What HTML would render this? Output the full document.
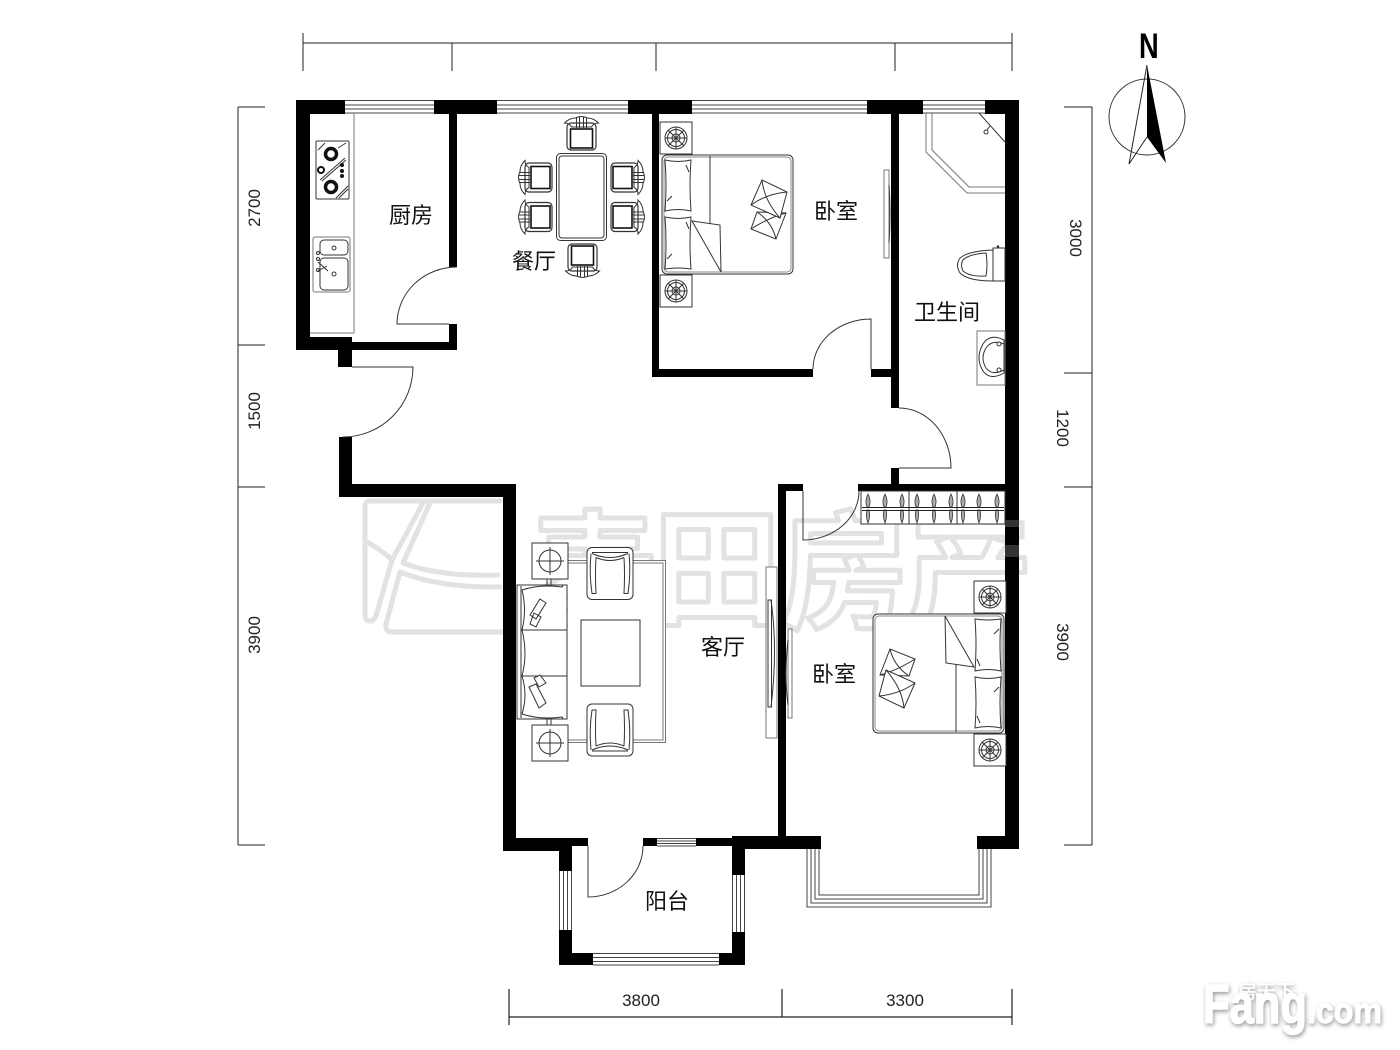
<!DOCTYPE html>
<html><head><meta charset="utf-8"><style>
html,body{margin:0;padding:0;background:#fff}
svg{display:block}
.cn{font-family:"Liberation Sans","Noto Sans CJK SC",sans-serif;font-size:22px;fill:#111}
.d{font-family:"Liberation Sans",sans-serif;font-size:17px;fill:#222}
.l{fill:none;stroke:#333;stroke-width:1}
.f{fill:#fff;stroke:#333;stroke-width:1}
.g{fill:#fff;stroke:#777;stroke-width:1}
</style></head><body>
<svg width="1400" height="1050" viewBox="0 0 1400 1050" xmlns="http://www.w3.org/2000/svg">
<defs>
<g id="wheel"><rect x="-16" y="-16" width="32" height="32" class="f" stroke-width="1.5"/><circle r="11" class="f" stroke-width="1.3"/><circle r="8.5" class="l"/><circle r="4" class="l"/><path class="l" d="M-11 0H11M0-11V11M-8-8L8 8M-8 8L8-8"/></g>
<g id="chair">
<path class="f" d="M-17 -16Q-12 -21 -6 -21Q0 -24 6 -21Q12 -21 17 -16Q12 -16 10 -12H-10Q-12 -16 -17 -16Z" stroke-width="1.2"/>
<path class="l" d="M-5 -22V-11M5 -22V-11M-5 -16H5M-2 -22V-11M2 -22V-11"/>
<rect x="-14.500" y="-16" width="29" height="27" rx="4" fill="none" stroke="#333" stroke-width="1.2"/>
<rect x="-11" y="-10" width="22" height="19" fill="#fff" stroke="#111" stroke-width="1.600"/></g>
<g id="hanger"><path d="M0 -14Q-3.500 -7 -1 -1H1Q3.500 -7 0 -14ZM-1 2Q-2.500 9 0 15Q2.500 9 1 2Z" fill="#aaa" stroke="#333" stroke-width=".8"/></g>
<g id="bed">
<rect x="662" y="155" width="131" height="119" rx="5" class="f" stroke-width="1.200"/>
<rect x="664" y="157" width="127" height="115" rx="4" fill="none" stroke="#888" stroke-width="1"/>
<path class="l" d="M710 156V225"/>
<path class="f" d="M692 221L720 225L721 272Z"/>
<path class="f" d="M665 160Q678 163 691 160Q689 185 691 211Q678 208 665 211Q667 185 665 160ZM665 217Q678 220 691 217Q689 243 691 269Q678 267 665 269Q667 243 665 217Z" stroke-width="1.2"/>
<path class="l" d="M667 201L672 196M667 259L672 254M686 165L689 172M686 222L689 229"/>
<use href="#wheel" x="676" y="138"/><use href="#wheel" x="676" y="291"/>
</g>
<g id="deco">
<path class="f" d="M757 212L786 213L776 239L751 229Z" stroke-width="1.2"/>
<path class="l" d="M757 212Q772 222 776 239M786 213Q768 218 751 229"/>
<path class="f" d="M762 180L787 192L780 218L751 205Z" stroke-width="1.2"/>
<path class="l" d="M762 180Q764 200 780 218M787 192Q766 194 751 205"/>
</g>
<g id="armchair"><rect x="-23" y="-26" width="46" height="52" rx="5" class="f" stroke-width="1.2"/><path class="l" d="M-18 -20Q0 -12 18 -20M-18 -21H18M-19 -20Q-21 0 -18 20H-14Q-15 0 -14 -16M19 -20Q21 0 18 20H14Q15 0 14 -16M-14 -16Q0 -10 14 -16"/></g>
<g id="sidet"><rect x="-18" y="-18" width="36" height="36" class="f"/><circle r="11" class="l" stroke-width="1.2"/><path class="l" d="M-14 0H14M0-14V14"/></g>
</defs>

<!-- watermark -->
<g fill="#fff" stroke="#e2e2e2" stroke-width="5" stroke-linejoin="round" font-family="'Noto Sans CJK SC',sans-serif" font-weight="700" font-size="128">
<text x="529" y="618">麦</text>
<text x="653" y="615">田</text>
<text x="780" y="618">房</text>
<text x="905" y="618">产</text>
</g>
<g fill="none" stroke="#e2e2e2" stroke-width="5" stroke-linejoin="round" stroke-linecap="round">
<path d="M500 501H370Q365 501 365 507V541Q382 550 392 560L423 503"/>
<path d="M430 503L403 563Q440 577 498 575"/>
<path d="M392 560L376 616Q373 622 369 621Q365 620 365 615V541"/>
<path d="M400 572Q440 588 500 587"/>
<path d="M400 572L386 624Q385 632 392 632H502"/>
</g>

<!-- dimensions -->
<g stroke="#222" stroke-width="1" fill="none">
<path d="M303 43H1012M303 33V71M452 43V71M656 43V71M895 43V71M1012 33V71"/>
<path d="M238 107V845M238 107H265M238 345H265M238 487H265M238 845H265"/>
<path d="M1092 107V845M1064 107H1092M1064 373H1092M1064 487H1092M1064 845H1092"/>
<path d="M509 1017H1012M509 989V1025M782 989V1017M1012 989V1025" stroke-width="1.200"/>
</g>
<g class="d" text-anchor="middle">
<text transform="translate(260,208) rotate(-90)">2700</text>
<text transform="translate(260,411) rotate(-90)">1500</text>
<text transform="translate(260,635) rotate(-90)">3900</text>
<text transform="translate(1070,238) rotate(90)">3000</text>
<text transform="translate(1057,428) rotate(90)">1200</text>
<text transform="translate(1057,642) rotate(90)">3900</text>
<text x="641" y="1006">3800</text>
<text x="905" y="1006">3300</text>
</g>

<!-- compass -->
<circle cx="1147" cy="117" r="38" class="l" stroke="#222" stroke-width="1.200"/>
<path d="M1147 65L1129 164L1147 137" fill="none" stroke="#222" stroke-width="1"/>
<path d="M1147 65L1166 163L1147 137Z" fill="#000"/>
<text transform="translate(1139,58) scale(.78,1)" font-family="'Liberation Sans',sans-serif" font-weight="700" font-size="35" fill="#000">N</text>

<!-- windows -->
<g stroke="#444" stroke-width="1" fill="#fff">
<path d="M345 100.500H434M345 105H434M345 109H434M345 113H434M497 100.500H628M497 105H628M497 109H628M497 113H628M692 100.500H867M692 105H867M692 109H867M692 113H867M923 100.500H985M923 105H985M923 109H985M923 113H985"/>
<path d="M657 838.500H696M657 841H696M657 843.500H696M657 846H696"/>
<path d="M559.500 871V930M563.500 871V930M567.500 871V930M571.500 871V930M732.500 875V932M736.500 875V932M740.500 875V932M744.500 875V932"/>
<path d="M593 953.500H719M593 957.500H719M593 961.500H719M593 965H719"/>
<path d="M807 849V907H991V849M811 849V903H987V849M815 849V899H983V849M819 849V895H979V849"/>
</g>

<!-- walls -->
<g fill="#000">
<rect x="296" y="100" width="49" height="14"/>
<rect x="434" y="100" width="63" height="14"/>
<rect x="628" y="100" width="64" height="14"/>
<rect x="867" y="100" width="56" height="14"/>
<rect x="985" y="100" width="34" height="14"/>
<rect x="296" y="100" width="14" height="250"/>
<rect x="296" y="337" width="56" height="13"/>
<rect x="352" y="342" width="105" height="8"/>
<rect x="338" y="340" width="14" height="27"/>
<rect x="449" y="113" width="8" height="154"/>
<rect x="449" y="324" width="8" height="26"/>
<rect x="339" y="437" width="13" height="60"/>
<rect x="339" y="484" width="177" height="13"/>
<rect x="503" y="484" width="13" height="367"/>
<rect x="503" y="838" width="69" height="13"/>
<rect x="559" y="838" width="13" height="33"/>
<rect x="572" y="838" width="16" height="8"/>
<rect x="643" y="838" width="14" height="8"/>
<rect x="696" y="838" width="36" height="8"/>
<rect x="559" y="930" width="13" height="35"/>
<rect x="559" y="953" width="34" height="12"/>
<rect x="719" y="953" width="26" height="12"/>
<rect x="732" y="836" width="13" height="39"/>
<rect x="732" y="932" width="13" height="33"/>
<rect x="732" y="836" width="89" height="13"/>
<rect x="977" y="836" width="41" height="13"/>
<rect x="778" y="484" width="8" height="354"/>
<rect x="778" y="484" width="25" height="7"/>
<rect x="858" y="484" width="147" height="7"/>
<rect x="1005" y="100" width="14" height="749"/>
<rect x="652" y="113" width="7" height="264"/>
<rect x="652" y="369" width="161" height="8"/>
<rect x="871" y="369" width="21" height="8"/>
<rect x="891" y="113" width="8" height="295"/>
<rect x="891" y="468" width="8" height="17"/>
</g>
<rect x="1005" y="520" width="14" height="7" fill="#333"/>
<rect x="1005" y="545" width="14" height="12" fill="#333"/>

<!-- doors -->
<g class="l">
<path d="M449 324H397A60 57 0 0 1 457 267"/>
<path d="M352 367H413A70 70 0 0 1 343 437"/>
<path d="M871 369V319A58 50 0 0 0 813 369"/>
<path d="M899 408A52 60 0 0 1 951 468H899"/>
<path d="M803 491V540A56 49 0 0 0 859 491"/>
<path d="M588 846V897A55 51 0 0 0 643 846"/>
</g>

<!-- kitchen -->
<path class="g" d="M354 113V333H310"/>
<rect x="316" y="141" width="33" height="58" rx="1" class="f" stroke-width="1.200"/>
<path class="l" d="M318 150L325 143M320 180L345 158M322 181L346 160M336 198L348 186M339 198L348 189M338 148L346 143"/>
<circle cx="331" cy="154" r="5.500" fill="#fff" stroke="#111" stroke-width="3.500"/>
<circle cx="331" cy="187" r="5.500" fill="#fff" stroke="#111" stroke-width="3.500"/>
<circle cx="321" cy="170" r="3" fill="#fff" stroke="#111" stroke-width="2"/>
<circle cx="342" cy="165" r="2" fill="#111"/><circle cx="342" cy="171" r="2" fill="#111"/><circle cx="342" cy="176" r="2" fill="#111"/>
<rect x="313" y="237" width="37" height="55" rx="2" class="g"/>
<rect x="320" y="240" width="28" height="15" rx="4" class="l"/>
<rect x="320" y="258" width="28" height="32" rx="4" class="l"/>
<circle cx="334" cy="248" r="2" class="l"/><circle cx="334" cy="274" r="2" class="l"/>
<path class="l" d="M318 262L328 271M318 271L327 266"/>
<circle cx="318" cy="253" r="1.500" class="l"/><circle cx="318" cy="259" r="1.500" class="l"/><circle cx="318" cy="270" r="1.500" class="l"/>

<!-- dining -->
<use href="#chair" x="581.500" y="139"/>
<use href="#chair" transform="translate(582.500,255) rotate(180)"/>
<use href="#chair" transform="translate(541,177.500) rotate(-90)"/>
<use href="#chair" transform="translate(541,217) rotate(-90)"/>
<use href="#chair" transform="translate(622,177.500) rotate(90)"/>
<use href="#chair" transform="translate(622,217) rotate(90)"/>
<rect x="556.500" y="153.500" width="50" height="87" rx="4" class="f" stroke-width="1.200"/>
<rect x="559" y="156" width="45" height="82" rx="3" class="l" stroke-width="1.200"/>

<!-- bedroom 1 -->
<use href="#bed"/><use href="#deco"/>
<rect x="884" y="170" width="5" height="88" class="g"/>
<path class="l" d="M889 185Q891 214 889 243"/>

<!-- bath -->
<path class="g" d="M926 113V152L967 193H1005M932 113V150L969 187H1005"/>
<path class="l" d="M979 113L1005 142"/>
<circle cx="986" cy="132" r="2" class="l"/><path class="l" d="M987 130L990 126"/>
<rect x="993" y="248" width="12" height="33" class="f"/>
<path class="f" d="M993 250Q968 251 960 258Q955 265 960 273Q968 281 993 281Z"/>
<path class="l" d="M986 253Q969 254 963 260Q960 265 963 271Q970 277 986 276Q988 265 986 253Z"/>
<circle cx="998" cy="246.500" r="1.300" fill="#333"/>
<rect x="977" y="331" width="28" height="54" class="g"/>
<path class="f" d="M1004 340Q990 333 983 344Q975 358 983 371Q990 381 1004 373Z" stroke-width="1.100"/>
<path class="l" d="M1004 344Q992 339 986 348Q980 358 986 368Q992 376 1004 370"/>
<circle cx="999" cy="344" r="2" class="f"/><circle cx="999" cy="370" r="2" class="f"/>

<!-- closet -->
<rect x="861" y="491" width="144" height="33" class="f" stroke-width="1.200"/>
<path class="l" d="M909 491V524M957 491V524" stroke-width="1.200"/>
<g>
<use href="#hanger" x="868" y="508"/><use href="#hanger" x="885" y="508"/><use href="#hanger" x="902" y="508"/>
<use href="#hanger" x="917" y="508"/><use href="#hanger" x="934" y="508"/><use href="#hanger" x="951" y="508"/>
<use href="#hanger" x="963" y="508"/><use href="#hanger" x="979" y="508"/><use href="#hanger" x="997" y="508"/>
</g>
<path d="M862 507.500H1004M862 510.500H1004" stroke="#222" stroke-width="1" fill="none"/>

<!-- bedroom 2 -->
<g transform="translate(1666,888) scale(-1,-1)"><use href="#bed"/><use href="#deco"/></g>

<!-- living -->
<path class="g" d="M568 560.500H665.500V742.500H568M568 563H663V740H568" stroke-width="1.200"/>
<use href="#sidet" x="550" y="561"/>
<use href="#sidet" x="550" y="743"/>
<path class="l" d="M547 579V585M551 579V585M547 719V725M551 719V725"/>
<use href="#armchair" x="610" y="573.500"/>
<g transform="translate(610,730) scale(1,-1)"><use href="#armchair"/></g>
<rect x="517" y="585" width="50" height="134" class="f" stroke-width="1"/>
<path class="l" d="M521 586V718M521 630H567M521 676H567M517 585H561Q564 585 562 587Q540 584 522 590M517 719H561Q564 719 562 717Q540 720 522 714"/>
<path class="l" d="M522 590Q527 610 522 630Q528 653 522 676Q528 695 522 714"/>
<path class="f" d="M540 599L546 603L536 619L530 615ZM534 613L541 617L536 627L530 624Z"/>
<path class="f" d="M534 678L540 675L546 683L539 687ZM529 687L536 684L546 703L539 708Z"/>
<rect x="581" y="620" width="59" height="66" class="f" stroke-width="1.200"/>
<rect x="766" y="567" width="11" height="171" class="g"/>
<rect x="768" y="600" width="3.500" height="107" class="l"/>
<path class="l" d="M771 600Q778 650 771 707"/>
<rect x="788" y="629" width="4" height="89" class="g"/>
<path class="l" d="M788 640Q784 675 788 705"/>

<!-- labels -->
<g class="cn">
<text x="389" y="223">厨房</text>
<text x="512" y="269">餐厅</text>
<text x="814" y="219">卧室</text>
<text x="914" y="320">卫生间</text>
<text x="701" y="655">客厅</text>
<text x="812" y="682">卧室</text>
<text x="645" y="909">阳台</text>
</g>

<!-- logo -->
<g style="filter:drop-shadow(1px 2px 2px rgba(0,0,0,.4))" fill="#fff" stroke="#fff">
<text x="1203" y="1023" stroke-width="1.500" font-family="'Liberation Sans',sans-serif" font-weight="700" font-size="55" textLength="104" lengthAdjust="spacingAndGlyphs">Fang</text>
<text x="1307" y="1023" stroke-width="1" font-family="'Liberation Sans',sans-serif" font-weight="700" font-size="36" textLength="75" lengthAdjust="spacingAndGlyphs">.com</text>
<text x="1238" y="998" stroke-width=".5" font-family="'Liberation Sans','Noto Sans CJK SC',sans-serif" font-size="19" textLength="57">房天下</text>
</g>
</svg>
</body></html>
